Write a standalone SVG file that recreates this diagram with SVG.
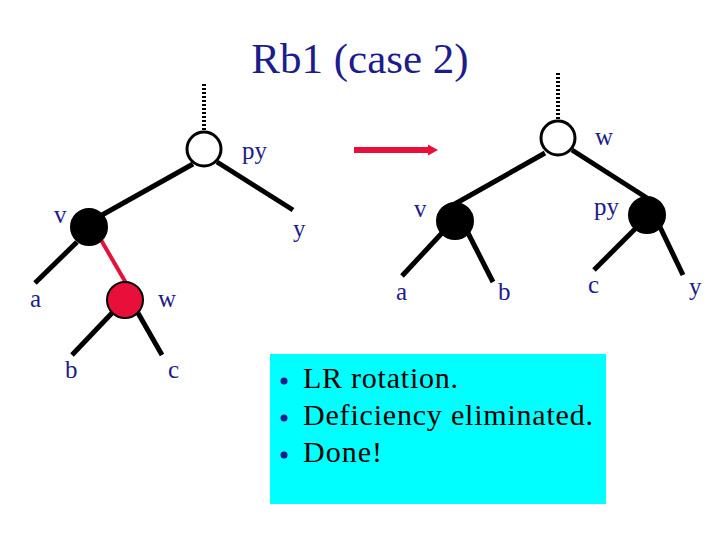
<svg xmlns="http://www.w3.org/2000/svg" width="720" height="540" viewBox="0 0 720 540">
<style>
.lbl{font-family:"Liberation Serif","Times New Roman",serif;font-size:25px;fill:#1c1c8c}
.title{font-family:"Liberation Serif","Times New Roman",serif;font-size:43px;fill:#1c1c8c}
.txt{font-family:"Liberation Serif","Times New Roman",serif;font-size:30px;fill:#000}
.edge{stroke:#000;stroke-width:5;fill:none}
.red{stroke:#e8103a;stroke-width:4;fill:none}
.dot{stroke:#000;stroke-width:4;stroke-dasharray:2 2;fill:none}
.wn{fill:#fff;stroke:#000;stroke-width:3}
.bn{fill:#000;stroke:#000;stroke-width:2}
.rn{fill:#e8103a;stroke:#000;stroke-width:2}
</style>
<rect width="720" height="540" fill="#fff"/>
<text class="title" x="360" y="73" text-anchor="middle">Rb1 (case 2)</text>
<g id="connectors">
<line class="dot" x1="204" y1="84" x2="204" y2="131"/>
<line class="edge" x1="193" y1="164" x2="102" y2="215"/>
<line class="edge" x1="217" y1="162" x2="293" y2="210"/>
<line class="edge" x1="77" y1="242" x2="35" y2="283"/>
<line class="red" x1="101" y1="240" x2="126" y2="283"/>
<line class="edge" x1="112" y1="313" x2="72" y2="355"/>
<line class="edge" x1="138" y1="313" x2="162" y2="355"/>
<line class="dot" x1="558" y1="73" x2="558" y2="120"/>
<line class="edge" x1="545" y1="153" x2="453" y2="205"/>
<line class="edge" x1="572" y1="150" x2="647" y2="198"/>
<line class="edge" x1="442" y1="233" x2="402" y2="276"/>
<line class="edge" x1="468" y1="233" x2="493" y2="282"/>
<line class="edge" x1="637" y1="227" x2="594" y2="270"/>
<line class="edge" x1="660" y1="227" x2="683" y2="275"/>
<line x1="354" y1="150" x2="430" y2="150" stroke="#e8103a" stroke-width="6"/>
<polygon points="428,144.5 438,150 428,155.5" fill="#e8103a"/>
</g>
<g id="L-py"><circle class="wn" cx="204" cy="149" r="17"/><text class="lbl" x="242" y="159">py</text></g>
<g id="L-v"><circle class="bn" cx="89" cy="227" r="18"/><text class="lbl" x="54" y="223">v</text></g>
<g id="L-w"><circle class="rn" cx="125" cy="300" r="18"/><text class="lbl" x="158" y="307">w</text></g>
<g id="L-y"><text class="lbl" x="293" y="237">y</text></g>
<g id="L-a"><text class="lbl" x="30" y="307">a</text></g>
<g id="L-b"><text class="lbl" x="65" y="378">b</text></g>
<g id="L-c"><text class="lbl" x="168" y="378">c</text></g>
<g id="R-w"><circle class="wn" cx="558" cy="138" r="17"/><text class="lbl" x="595" y="145">w</text></g>
<g id="R-v"><circle class="bn" cx="455" cy="221" r="18"/><text class="lbl" x="414" y="217">v</text></g>
<g id="R-py"><circle class="bn" cx="647" cy="215" r="18"/><text class="lbl" x="594" y="215">py</text></g>
<g id="R-a"><text class="lbl" x="396" y="300">a</text></g>
<g id="R-b"><text class="lbl" x="498" y="300">b</text></g>
<g id="R-c"><text class="lbl" x="588" y="293">c</text></g>
<g id="R-y"><text class="lbl" x="689" y="295">y</text></g>
<g id="notes">
<rect x="270" y="354" width="336" height="150" fill="#00ffff"/>
<circle cx="284" cy="381" r="3.5" fill="#1c1c8c"/>
<circle cx="284" cy="418" r="3.5" fill="#1c1c8c"/>
<circle cx="284" cy="455" r="3.5" fill="#1c1c8c"/>
<text class="txt" x="303" y="388" textLength="155" lengthAdjust="spacing">LR rotation.</text>
<text class="txt" x="303" y="425" textLength="290" lengthAdjust="spacing">Deficiency eliminated.</text>
<text class="txt" x="303" y="462" textLength="79" lengthAdjust="spacing">Done!</text>
</g>
</svg>
